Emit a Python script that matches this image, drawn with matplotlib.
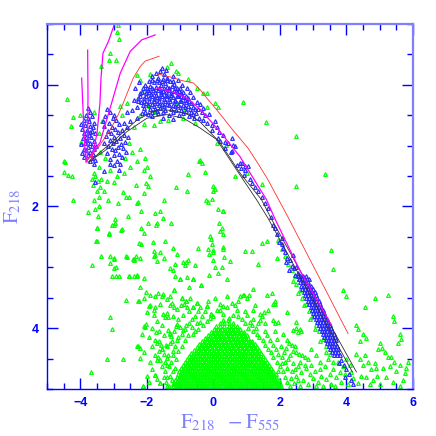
#!/usr/bin/env python3
"""Colour-magnitude diagram F218 vs F218-F555 with isochrones overlaid."""

import matplotlib
matplotlib.use("Agg")
import matplotlib.pyplot as plt
import numpy as np
from matplotlib.ticker import MultipleLocator

plt.rcParams["mathtext.fontset"] = "stix"

# ---- green field stars -------------------------------------------------
# saturated core of the faint field population: (F218, [colours])
core_rows = [
    (3.86, [0.30, 0.43]),
    (3.91, [0.20, 0.33, 0.46, 0.59]),
    (3.96, [0.07, 0.20, 0.33, 0.46, 0.59, 0.72]),
    (4.01, [0.01, 0.14, 0.27, 0.40, 0.53, 0.66, 0.79]),
    (4.06, [-0.08, 0.05, 0.18, 0.31, 0.44, 0.57, 0.70, 0.83, 0.92]),
    (4.11, [-0.15, -0.02, 0.11, 0.24, 0.37, 0.50, 0.63, 0.76, 0.89, 1.00]),
    (4.16, [-0.25, -0.12, 0.01, 0.14, 0.27, 0.40, 0.53, 0.66, 0.79, 0.92, 1.05]),
    (4.21, [-0.33, -0.20, -0.07, 0.06, 0.19, 0.32, 0.45, 0.58, 0.71, 0.84, 0.97, 1.10, 1.16]),
    (4.26, [-0.42, -0.29, -0.16, -0.03, 0.10, 0.23, 0.36, 0.49, 0.62, 0.75, 0.88, 1.01, 1.14, 1.24]),
    (4.31, [-0.50, -0.37, -0.24, -0.11, 0.02, 0.15, 0.28, 0.41, 0.54, 0.67, 0.80, 0.93, 1.06, 1.19,
            1.32]),
    (4.36, [-0.58, -0.45, -0.32, -0.19, -0.06, 0.07, 0.20, 0.33, 0.46, 0.59, 0.72, 0.85, 0.98, 1.11,
            1.24, 1.37]),
    (4.41, [-0.66, -0.53, -0.40, -0.27, -0.14, -0.01, 0.12, 0.25, 0.38, 0.51, 0.64, 0.77, 0.90, 1.03,
            1.16, 1.29, 1.42]),
    (4.46, [-0.73, -0.60, -0.47, -0.34, -0.21, -0.08, 0.05, 0.18, 0.31, 0.44, 0.57, 0.70, 0.83, 0.96,
            1.09, 1.22, 1.35, 1.48]),
    (4.51, [-0.80, -0.67, -0.54, -0.41, -0.28, -0.15, -0.02, 0.11, 0.24, 0.37, 0.50, 0.63, 0.76, 0.89,
            1.02, 1.15, 1.28, 1.41, 1.54]),
    (4.56, [-0.86, -0.73, -0.60, -0.47, -0.34, -0.21, -0.08, 0.05, 0.18, 0.31, 0.44, 0.57, 0.70, 0.83,
            0.96, 1.09, 1.22, 1.35, 1.48, 1.61]),
    (4.61, [-0.92, -0.79, -0.66, -0.53, -0.40, -0.27, -0.14, -0.01, 0.12, 0.25, 0.38, 0.51, 0.64, 0.77,
            0.90, 1.03, 1.16, 1.29, 1.42, 1.55, 1.68]),
    (4.66, [-0.97, -0.84, -0.71, -0.58, -0.45, -0.32, -0.19, -0.06, 0.07, 0.20, 0.33, 0.46, 0.59, 0.72,
            0.85, 0.98, 1.11, 1.24, 1.37, 1.50, 1.63, 1.74]),
    (4.71, [-1.02, -0.89, -0.76, -0.63, -0.50, -0.37, -0.24, -0.11, 0.02, 0.15, 0.28, 0.41, 0.54, 0.67,
            0.80, 0.93, 1.06, 1.19, 1.32, 1.45, 1.58, 1.71, 1.80]),
    (4.76, [-1.06, -0.93, -0.80, -0.67, -0.54, -0.41, -0.28, -0.15, -0.02, 0.11, 0.24, 0.37, 0.50, 0.63,
            0.76, 0.89, 1.02, 1.15, 1.28, 1.41, 1.54, 1.67, 1.80, 1.87]),
    (4.81, [-1.10, -0.97, -0.84, -0.71, -0.58, -0.45, -0.32, -0.19, -0.06, 0.07, 0.20, 0.33, 0.46, 0.59,
            0.72, 0.85, 0.98, 1.11, 1.24, 1.37, 1.50, 1.63, 1.76, 1.89]),
    (4.86, [-1.14, -1.01, -0.88, -0.75, -0.62, -0.49, -0.36, -0.23, -0.10, 0.03, 0.16, 0.29, 0.42, 0.55,
            0.68, 0.81, 0.94, 1.07, 1.20, 1.33, 1.46, 1.59, 1.72, 1.85, 1.96]),
    (4.91, [-1.18, -1.05, -0.92, -0.79, -0.66, -0.53, -0.40, -0.27, -0.14, -0.01, 0.12, 0.25, 0.38, 0.51,
            0.64, 0.77, 0.90, 1.03, 1.16, 1.29, 1.42, 1.55, 1.68, 1.81, 1.94, 2.00]),
    (4.96, [-1.22, -1.09, -0.96, -0.83, -0.70, -0.57, -0.44, -0.31, -0.18, -0.05, 0.08, 0.21, 0.34, 0.47,
            0.60, 0.73, 0.86, 0.99, 1.12, 1.25, 1.38, 1.51, 1.64, 1.77, 1.90, 2.03]),
]

# stars filling the gaps between the core rows
core_fill_rows = [
    (4.035, [0.08, 0.21, 0.34, 0.47, 0.60, 0.73]),
    (4.085, [-0.02, 0.11, 0.24, 0.37, 0.50, 0.63, 0.76, 0.89]),
    (4.135, [-0.09, 0.04, 0.17, 0.30, 0.43, 0.56, 0.69, 0.82, 0.95]),
    (4.185, [-0.19, -0.06, 0.07, 0.20, 0.33, 0.46, 0.59, 0.72, 0.85, 0.98]),
    (4.235, [-0.27, -0.14, -0.01, 0.12, 0.25, 0.38, 0.51, 0.64, 0.77, 0.90, 1.03, 1.12]),
    (4.285, [-0.36, -0.23, -0.10, 0.03, 0.16, 0.29, 0.42, 0.55, 0.68, 0.81, 0.94, 1.07, 1.20]),
    (4.335, [-0.44, -0.31, -0.18, -0.05, 0.08, 0.21, 0.34, 0.47, 0.60, 0.73, 0.86, 0.99, 1.12, 1.25]),
    (4.385, [-0.52, -0.39, -0.26, -0.13, 0.00, 0.13, 0.26, 0.39, 0.52, 0.65, 0.78, 0.91, 1.04, 1.17,
             1.30]),
    (4.435, [-0.60, -0.47, -0.34, -0.21, -0.08, 0.05, 0.18, 0.31, 0.44, 0.57, 0.70, 0.83, 0.96, 1.09,
             1.22, 1.35]),
    (4.485, [-0.67, -0.54, -0.41, -0.28, -0.15, -0.02, 0.11, 0.24, 0.37, 0.50, 0.63, 0.76, 0.89, 1.02,
             1.15, 1.28, 1.41]),
    (4.535, [-0.74, -0.61, -0.48, -0.35, -0.22, -0.09, 0.04, 0.17, 0.30, 0.43, 0.56, 0.69, 0.82, 0.95,
             1.08, 1.21, 1.34, 1.47]),
    (4.585, [-0.80, -0.67, -0.54, -0.41, -0.28, -0.15, -0.02, 0.11, 0.24, 0.37, 0.50, 0.63, 0.76, 0.89,
             1.02, 1.15, 1.28, 1.41, 1.54]),
    (4.635, [-0.86, -0.73, -0.60, -0.47, -0.34, -0.21, -0.08, 0.05, 0.18, 0.31, 0.44, 0.57, 0.70, 0.83,
             0.96, 1.09, 1.22, 1.35, 1.48, 1.61]),
    (4.685, [-0.91, -0.78, -0.65, -0.52, -0.39, -0.26, -0.13, 0.00, 0.13, 0.26, 0.39, 0.52, 0.65, 0.78,
             0.91, 1.04, 1.17, 1.30, 1.43, 1.56, 1.67]),
    (4.735, [-0.96, -0.83, -0.70, -0.57, -0.44, -0.31, -0.18, -0.05, 0.08, 0.21, 0.34, 0.47, 0.60, 0.73,
             0.86, 0.99, 1.12, 1.25, 1.38, 1.51, 1.64, 1.74]),
    (4.785, [-1.00, -0.87, -0.74, -0.61, -0.48, -0.35, -0.22, -0.09, 0.04, 0.17, 0.30, 0.43, 0.56, 0.69,
             0.82, 0.95, 1.08, 1.21, 1.34, 1.47, 1.60, 1.73, 1.82]),
    (4.835, [-1.04, -0.91, -0.78, -0.65, -0.52, -0.39, -0.26, -0.13, 0.00, 0.13, 0.26, 0.39, 0.52, 0.65,
             0.78, 0.91, 1.04, 1.17, 1.30, 1.43, 1.56, 1.69, 1.82]),
    (4.885, [-1.08, -0.95, -0.82, -0.69, -0.56, -0.43, -0.30, -0.17, -0.04, 0.09, 0.22, 0.35, 0.48, 0.61,
             0.74, 0.87, 1.00, 1.13, 1.26, 1.39, 1.52, 1.65, 1.78, 1.91]),
    (4.935, [-1.12, -0.99, -0.86, -0.73, -0.60, -0.47, -0.34, -0.21, -0.08, 0.05, 0.18, 0.31, 0.44, 0.57,
             0.70, 0.83, 0.96, 1.09, 1.22, 1.35, 1.48, 1.61, 1.74, 1.87, 1.97]),
    (4.985, [-1.16, -1.03, -0.90, -0.77, -0.64, -0.51, -0.38, -0.25, -0.12, 0.01, 0.14, 0.27, 0.40, 0.53,
             0.66, 0.79, 0.92, 1.05, 1.18, 1.31, 1.44, 1.57, 1.70, 1.83, 1.96]),
]

# halo round the core and the faint red wing
halo_pts = [
    (-2.25, 3.56), (-2.02, 3.40), (-2.02, 3.94), (-2.05, 3.99), (-2.28, 4.29), (-2.20, 4.33),
    (-1.75, 4.20), (-1.68, 4.24), (-1.62, 4.22), (-1.58, 4.27), (-1.75, 4.44), (-1.66, 4.47),
    (-1.60, 4.52), (-1.70, 4.53), (-1.42, 4.27), (-1.38, 4.30), (-1.30, 4.25), (-1.25, 4.21),
    (-1.45, 4.55), (-1.40, 4.60), (-1.33, 4.62), (-1.35, 4.03), (-1.30, 4.08), (-1.26, 4.13),
    (-1.50, 3.77), (-1.45, 3.82), (-1.40, 3.75), (-1.36, 3.82), (-1.80, 3.70), (-1.76, 3.66),
    (-1.90, 3.45), (-1.75, 3.48), (-1.66, 3.42), (-1.55, 3.48), (-1.50, 3.44), (-1.40, 3.52),
    (-1.30, 3.47), (-1.24, 3.58), (-1.18, 3.66), (-1.08, 3.68), (-0.98, 3.62), (-0.88, 3.60),
    (-0.80, 3.66), (-0.72, 3.72), (-1.10, 3.93), (-1.00, 3.98), (-0.90, 4.03), (-0.82, 3.95),
    (-0.72, 3.91), (-0.64, 3.99), (-1.30, 4.78), (-1.24, 4.86), (-1.20, 4.92), (-1.33, 4.95),
    (-1.42, 4.88), (-1.48, 4.80), (-1.60, 4.90), (-1.75, 4.77), (-1.68, 4.83), (-2.12, 4.95),
    (-1.55, 4.35), (-1.20, 4.44), (-1.12, 4.50), (-1.05, 4.38), (-0.95, 4.30), (-0.85, 4.20),
    (-0.75, 4.12), (-0.62, 4.10), (-0.55, 4.05), (-0.45, 4.02), (-0.40, 3.90), (-0.30, 3.95),
    (-0.20, 3.88), (-0.10, 3.84), (0.00, 3.80), (-0.55, 3.80), (-0.45, 3.72), (-1.10, 4.20),
    (-1.15, 4.65), (-1.22, 4.70), (-2.30, 4.30), (-2.22, 4.49), (-2.72, 4.51), (-3.20, 4.51),
    (-3.68, 4.73), (-3.04, 4.02), (-3.11, 3.81), (-2.10, 3.96), (-2.15, 4.10), (-2.62, 3.53),
    (-2.26, 3.56), (-2.08, 3.51), (-1.94, 3.64), (-2.00, 3.73), (-1.90, 3.62),
    (0.80, 3.48), (0.92, 3.45), (1.00, 3.50), (1.08, 3.46), (1.60, 3.45), (1.80, 3.60),
    (1.85, 3.55), (1.40, 3.77), (1.46, 3.80), (1.52, 3.74), (1.80, 3.87), (1.86, 3.92),
    (1.95, 3.90), (2.40, 4.03), (2.48, 4.00), (2.55, 4.06), (2.62, 4.02), (2.20, 4.20),
    (2.28, 4.24), (2.35, 4.27), (2.44, 4.30), (2.40, 4.38), (2.50, 4.40), (2.58, 4.43),
    (2.68, 4.45), (2.76, 4.48), (2.85, 4.50), (1.20, 4.05), (1.30, 4.10), (1.38, 4.15),
    (1.48, 4.20), (1.56, 4.28), (1.64, 4.35), (1.72, 4.40), (1.80, 4.48), (1.90, 4.55),
    (2.00, 4.62), (2.10, 4.70), (2.05, 4.58), (1.95, 4.70), (2.15, 4.80), (2.22, 4.88),
    (2.30, 4.95), (1.10, 3.90), (1.20, 3.85), (1.00, 3.78), (0.95, 3.72), (1.25, 3.62),
    (0.70, 3.70), (0.60, 3.78), (0.85, 3.85), (0.40, 3.66), (0.30, 3.77), (0.20, 3.70),
    (0.48, 3.83), (0.55, 3.58), (0.30, 3.63), (-0.08, 3.77), (-0.20, 3.63), (-0.50, 3.58),
    (-0.60, 3.66), (-0.83, 3.56), (-0.95, 3.50), (-0.36, 3.29), (-0.73, 3.33), (-0.60, 3.20),
    (-1.00, 3.20), (-1.18, 3.38), (0.30, 2.66), (0.00, 2.71), (-0.14, 2.78), (0.33, 2.83),
    (0.05, 2.99), (0.27, 2.99), (0.15, 3.10), (-0.14, 3.12),
    (2.25, 4.50), (2.40, 4.58), (2.55, 4.62), (2.35, 4.70), (2.50, 4.78), (2.65, 4.72),
    (2.80, 4.66), (2.95, 4.60), (3.05, 4.70), (2.70, 4.85), (2.85, 4.92), (3.00, 4.82),
    (3.15, 4.88), (3.25, 4.78), (3.40, 4.84), (3.55, 4.92), (3.30, 4.95), (3.70, 4.80),
    (3.85, 4.88), (3.95, 4.75), (4.05, 4.92), (4.20, 4.82), (4.35, 4.90), (4.30, 4.43),
    (4.40, 4.50), (4.55, 4.45), (4.50, 4.60), (4.65, 4.55), (4.85, 4.58), (4.75, 4.68),
    (4.90, 4.66), (5.00, 4.25), (5.08, 4.32), (4.95, 4.35), (5.15, 4.40), (5.25, 4.48),
    (5.35, 4.48), (5.42, 4.56), (5.60, 4.10), (5.65, 4.18), (5.55, 4.25), (5.85, 4.55),
    (5.80, 4.65), (5.75, 4.74), (4.50, 4.10), (4.58, 4.16), (4.42, 4.22), (4.30, 3.95),
    (4.35, 4.02), (4.55, 3.66), (4.85, 3.50), (5.25, 3.45), (5.40, 3.80), (5.42, 3.88),
    (4.00, 3.48), (3.90, 3.38), (3.60, 3.03), (3.53, 2.71), (4.60, 4.80), (4.80, 4.85),
    (5.00, 4.92), (5.20, 4.80), (5.40, 4.88), (5.60, 4.95), (5.70, 4.85), (4.10, 4.60),
    (4.00, 4.50), (3.90, 4.62), (3.75, 4.55), (3.60, 4.68), (3.20, 4.55), (3.35, 4.62),
    (3.10, 4.45), (2.95, 4.35), (3.40, 4.40),
    (-1.55, 3.95), (-1.48, 4.12), (-1.62, 4.05), (-1.20, 3.80), (-1.05, 3.85), (-0.92, 3.78),
    (-0.65, 3.85), (-0.48, 3.92), (-0.35, 3.80), (-0.25, 3.72), (0.10, 3.70), (0.20, 3.60),
    (0.65, 3.62), (0.75, 3.80), (0.95, 3.92), (1.05, 4.00), (1.15, 3.95), (1.28, 4.00),
    (1.35, 3.92), (1.55, 4.05), (1.62, 4.12), (1.70, 4.20), (1.78, 4.28), (1.88, 4.35),
    (1.95, 4.42), (2.05, 4.48), (2.12, 4.40), (2.02, 4.30), (1.92, 4.18), (1.85, 4.05),
    (2.10, 4.10), (2.18, 4.32), (2.30, 4.45), (2.15, 4.55), (2.22, 4.65), (2.32, 4.82),
    (2.42, 4.90), (2.60, 4.95), (2.55, 4.85), (2.45, 4.68), (2.62, 4.55), (2.75, 4.60),
    (2.90, 4.75), (3.10, 4.95), (3.20, 4.68), (3.50, 4.75), (3.65, 4.95), (3.80, 4.72),
    (4.15, 4.72), (4.45, 4.78), (4.70, 4.92), (4.92, 4.78), (5.10, 4.65), (5.30, 4.62),
    (5.50, 4.70), (5.62, 4.60), (-1.45, 4.70), (-1.55, 4.62), (-1.38, 4.80), (-1.28, 4.55),
    (-1.22, 4.38), (-1.35, 4.45), (-1.48, 4.42), (-1.62, 4.38), (-1.85, 4.30), (-1.92, 4.55),
    (-1.85, 4.68), (-1.95, 4.88), (-2.00, 4.78), (-1.38, 4.95), (-1.15, 4.30), (-1.05, 4.15),
    (-0.95, 4.10), (-0.85, 4.02), (-1.18, 4.05), (-0.40, 3.65), (-0.15, 3.55), (0.05, 3.50),
    (0.42, 3.48), (0.75, 3.55), (1.20, 3.70), (1.65, 3.70), (1.55, 3.92), (-0.70, 3.50),
    (-1.30, 3.62), (-1.60, 3.60), (-1.70, 3.88), (-1.85, 4.00), (-1.95, 4.15), (-1.78, 3.78),
]

# field stars along the red giant branch and in the blue-loop region
branch_green = [
    (1.95, 2.55), (2.05, 2.70), (2.15, 2.82), (2.25, 2.95), (2.35, 3.05), (2.45, 3.15),
    (2.50, 3.28), (2.60, 3.38), (2.68, 3.50), (2.78, 3.60), (2.88, 3.72), (2.98, 3.82),
    (3.08, 3.95), (3.18, 4.05), (3.30, 4.18), (3.40, 4.30), (3.50, 4.42), (3.60, 4.55),
    (2.40, 3.22), (2.55, 3.42), (2.72, 3.62), (2.90, 3.85), (3.05, 4.02), (3.22, 4.22),
    (3.45, 4.50), (1.90, 2.85), (1.35, 2.95), (1.45, 2.60), (1.60, 2.56), (0.95, 2.73),
    (1.15, 2.73), (0.50, 2.90), (0.30, 2.70), (0.40, 3.20), (0.90, 3.45), (1.20, 3.35),
    (1.75, 3.43), (1.85, 3.60), (1.40, 3.87), (2.20, 3.73), (2.50, 3.90), (2.65, 4.05),
    (-2.30, -0.16), (-1.27, -0.36), (-1.12, -0.23), (-0.20, 0.14), (-2.10, 0.10), (-1.95, 0.35),
    (-1.75, 0.45), (-1.50, 0.35), (-1.30, 0.20), (-1.60, 0.60), (-1.10, 0.30), (-0.85, 0.40),
    (-0.65, 0.30), (-2.20, 0.50), (-2.40, 0.70), (-2.55, 0.95), (-2.45, 1.10), (-2.30, 1.25),
    (-2.50, 1.35), (-2.70, 1.45), (-2.90, 1.50), (-3.10, 1.40), (-3.25, 1.20), (-3.40, 1.10),
    (-3.45, 1.35), (-3.60, 1.45), (-3.55, 1.50), (-3.48, 1.58), (-3.62, 1.65), (-3.40, 1.68),
    (-3.50, 1.75), (-3.45, 1.85), (-3.58, 1.90), (-3.38, 1.55), (-3.65, 1.55), (-3.35, 0.60),
    (-3.45, 0.80), (-4.00, 0.50), (-3.58, 0.45), (-2.75, 0.50), (-2.65, 1.20), (-2.10, 0.65),
    (-1.80, 0.66), (-0.90, 0.55), (-0.55, 0.62), (-1.35, 0.58), (-2.60, 0.30), (-2.80, 0.35),
    (-2.20, -0.08), (-1.90, -0.18), (-1.40, -0.30), (-1.05, -0.20), (-0.75, -0.10), (-0.50, 0.05),
    (0.05, 0.30), (-2.10, 1.40), (-1.90, 1.50), (-2.00, 1.35), (-3.30, 1.75), (-3.20, 1.58),
    (-3.00, 1.60), (-3.45, 2.00), (-3.55, 2.05), (-2.05, 1.20), (-2.20, 1.05),
]

# sparse scatter over the rest of the diagram
sparse_green = [
    (-2.87, -0.98), (-2.90, -0.86), (-2.83, -0.75), (-3.10, -0.52), (-3.13, -0.40), (-2.93, -0.40),
    (-3.39, -0.31), (-4.40, 0.23), (-4.22, 0.53), (-4.28, 0.67), (-3.98, 0.94), (-4.49, 1.25),
    (-4.48, 1.43), (-4.36, 1.48), (-4.25, 1.50), (-4.22, 1.90), (-4.47, 1.27), (-3.77, 2.09),
    (-3.48, 2.16), (-3.50, 2.35), (-3.52, 2.56), (-3.38, 2.82), (-3.65, 2.96), (-2.95, 2.20),
    (-3.13, 2.45), (-2.75, 2.37), (-2.58, 2.15), (-3.00, 2.84), (-2.42, 2.86), (-2.87, 1.94),
    (-2.62, 1.84), (-2.30, 1.94), (-2.33, 1.64), (-2.17, 2.07), (-2.02, 1.61), (-1.97, 1.67),
    (-2.08, 1.78), (-2.10, 2.43), (-1.97, 2.27), (-1.69, 2.27), (-1.61, 2.07), (-1.48, 1.90),
    (-1.75, 2.10), (-1.50, 2.19), (-1.27, 2.28), (-1.72, 2.30), (-1.45, 2.56), (-2.17, 2.61),
    (-2.32, 2.82), (-2.62, 2.82), (-3.12, 2.82), (-2.93, 3.00), (-3.04, 3.15), (-2.85, 3.15),
    (-2.55, 3.15), (-2.40, 3.15), (-2.30, 3.15), (-2.38, 2.88), (-1.80, 2.82), (-1.75, 2.80),
    (-1.60, 2.75), (-1.10, 2.78), (-1.22, 2.68), (-1.15, 2.95), (-0.90, 2.92), (-0.82, 2.92),
    (-0.75, 2.88), (-1.15, 3.15), (-0.80, 3.16), (-3.17, 1.90), (-2.53, 1.84), (-2.72, 1.77),
    (-2.28, 1.93), (-2.17, 2.35), (-2.98, 2.30), (-3.05, 2.30), (-0.77, 1.47), (-1.12, 1.68),
    (-0.80, 1.75), (-0.43, 1.25), (-0.23, 1.90), (-0.15, 1.92), (-0.05, 1.88), (0.00, 1.67),
    (0.00, 1.75), (0.28, 2.08), (0.16, 2.27), (0.27, 2.35), (-0.10, 2.49), (0.20, 2.40),
    (0.30, 2.45), (-0.07, 2.53), (-0.05, 2.62), (0.00, 2.75), (-0.02, 2.88), (-0.15, 2.70),
    (-0.45, 2.68), (-3.49, 2.35), (-3.14, 2.44), (-2.78, 2.38), (-2.96, 2.27), (-3.51, 2.56),
    (-3.11, 2.93), (-2.98, 2.86), (-3.00, 3.02), (-2.93, 3.14), (-2.60, 2.83), (-2.54, 3.14),
    (-2.39, 2.86), (-2.20, 2.84), (-2.30, 3.12), (-2.09, 3.18), (-2.20, 3.33), (-2.23, 2.60),
    (-1.83, 2.58), (-1.78, 2.73), (-1.70, 2.89), (-1.48, 2.85), (-1.30, 3.02), (-1.22, 3.05),
    (-1.00, 3.20), (-0.85, 2.96), (-0.55, 2.97), (-0.60, 3.20), (-0.36, 3.29), (-1.18, 3.38),
    (-0.95, 3.50), (-0.83, 3.56), (-0.50, 3.58), (-0.60, 3.66), (-0.20, 3.63), (-0.08, 3.77),
    (-2.10, 4.40), (-2.12, 4.95), (-1.75, 4.77), (-1.60, 4.90), (-1.40, 4.49), (-1.55, 4.35),
    (-1.73, 4.07), (-1.30, 4.10), (-1.12, 3.96), (0.14, 0.37), (0.90, 0.28), (1.57, 0.61),
    (2.50, 0.84), (3.35, 1.46), (2.48, 1.66), (-0.40, 1.23), (-0.35, 1.28), (-0.25, 1.43),
    (0.05, 1.72), (0.65, 1.50), (1.45, 1.63), (1.00, 1.45), (0.38, 0.99), (0.10, 0.95),
    (-0.20, 0.36), (-0.30, 0.14), (0.14, 2.05), (0.28, 2.08),
]

# ---- blue cluster members ----------------------------------------------
loop_blue = [
    (-3.77, 0.38), (-3.72, 0.45), (-3.82, 0.50), (-3.66, 0.52), (-3.90, 0.58), (-3.75, 0.60),
    (-3.60, 0.62), (-3.85, 0.66), (-3.70, 0.68), (-3.95, 0.72), (-3.80, 0.74), (-3.64, 0.76),
    (-3.55, 0.80), (-3.88, 0.80), (-3.74, 0.82), (-3.68, 0.86), (-3.92, 0.88), (-3.80, 0.90),
    (-3.60, 0.92), (-3.86, 0.95), (-3.72, 0.96), (-3.98, 0.98), (-3.65, 1.00), (-3.78, 1.02),
    (-3.90, 1.05), (-3.58, 1.06), (-3.84, 1.08), (-3.70, 1.10), (-3.62, 1.14), (-3.76, 1.16),
    (-3.88, 1.18), (-3.66, 1.20), (-3.55, 1.24), (-3.72, 1.26), (-3.58, 1.30), (-3.98, 0.65),
    (-3.62, 0.70), (-3.84, 0.85), (-3.70, 0.78), (-3.94, 1.12), (-3.52, 1.00), (-3.76, 0.55),
    (-3.20, 0.40), (-3.10, 0.45), (-3.25, 0.52), (-3.02, 0.55), (-2.92, 0.58), (-3.15, 0.62),
    (-2.85, 0.64), (-3.28, 0.68), (-3.05, 0.70), (-2.95, 0.72), (-2.75, 0.74), (-3.18, 0.76),
    (-2.88, 0.78), (-3.08, 0.80), (-2.70, 0.82), (-3.22, 0.84), (-2.98, 0.86), (-2.82, 0.88),
    (-3.12, 0.90), (-2.92, 0.92), (-2.65, 0.94), (-3.02, 0.96), (-2.78, 0.98), (-3.16, 1.00),
    (-2.88, 1.02), (-2.72, 1.04), (-3.06, 1.06), (-2.95, 1.08), (-2.62, 1.10), (-3.20, 1.12),
    (-2.84, 1.14), (-3.00, 1.16), (-2.76, 1.18), (-3.10, 1.22), (-2.90, 1.25), (-3.00, 1.32),
    (-2.80, 1.30), (-2.60, 0.70), (-2.58, 0.86), (-3.30, 0.95), (-3.32, 0.60), (-2.68, 0.62),
    (-2.98, 0.50), (-3.12, 1.30), (-2.85, 1.40), (-3.55, 1.60), (-3.30, 1.42),
]

clump_blue = [
    (-1.72, -0.20), (-1.60, -0.22), (-1.48, -0.18), (-1.85, -0.14), (-1.66, -0.12), (-1.52, -0.10),
    (-1.38, -0.12), (-1.95, -0.06), (-1.78, -0.05), (-1.62, -0.04), (-1.45, -0.03), (-1.30, -0.06),
    (-1.18, -0.02), (-2.05, 0.00), (-1.90, 0.02), (-1.72, 0.03), (-1.56, 0.01), (-1.40, 0.04),
    (-1.25, 0.02), (-1.10, 0.05), (-2.12, 0.06), (-1.98, 0.08), (-1.82, 0.09), (-1.66, 0.08),
    (-1.50, 0.10), (-1.34, 0.09), (-1.18, 0.11), (-1.02, 0.10), (-0.90, 0.12), (-2.20, 0.13),
    (-2.04, 0.14), (-1.88, 0.15), (-1.72, 0.16), (-1.58, 0.15), (-1.42, 0.17), (-1.26, 0.16),
    (-1.10, 0.18), (-0.96, 0.19), (-0.82, 0.18), (-2.28, 0.21), (-2.10, 0.21), (-1.94, 0.22),
    (-1.78, 0.23), (-1.64, 0.22), (-1.48, 0.24), (-1.32, 0.23), (-1.16, 0.25), (-1.00, 0.26),
    (-0.86, 0.25), (-0.72, 0.27), (-2.18, 0.29), (-2.02, 0.30), (-1.86, 0.31), (-1.70, 0.30),
    (-1.54, 0.32), (-1.38, 0.31), (-1.22, 0.33), (-1.06, 0.34), (-0.92, 0.33), (-0.76, 0.35),
    (-0.62, 0.37), (-2.30, 0.37), (-2.08, 0.38), (-1.92, 0.39), (-1.76, 0.40), (-1.60, 0.38),
    (-1.44, 0.41), (-1.28, 0.40), (-1.12, 0.42), (-0.98, 0.41), (-0.82, 0.43), (-0.68, 0.45),
    (-0.52, 0.46), (-2.15, 0.46), (-1.98, 0.48), (-1.66, 0.47), (-1.34, 0.49), (-1.04, 0.50),
    (-0.74, 0.52), (-0.58, 0.54), (-0.42, 0.55), (-0.30, 0.58), (-0.18, 0.62), (-0.05, 0.66),
    (-0.45, 0.40), (-0.35, 0.45), (-0.25, 0.50), (-1.55, -0.28), (-1.42, -0.24), (-2.35, 0.05),
    (-2.25, -0.05), (-2.40, 0.25), (-2.45, 0.42), (-1.20, -0.15), (-1.05, -0.08), (-0.95, 0.00),
    (-0.80, 0.05), (-0.70, 0.12), (-0.60, 0.20), (-0.50, 0.28), (-0.40, 0.32), (-0.30, 0.38),
    (-0.12, 0.48), (0.05, 0.60), (-1.85, 0.52), (-1.50, 0.55), (-1.20, 0.56), (-2.30, 0.55),
    (-2.60, 0.45), (-2.50, 0.60),
    (-1.86, -0.08), (-1.70, -0.08), (-1.54, -0.07), (-1.38, -0.08), (-1.22, -0.07),
    (-2.00, 0.05), (-1.84, 0.05), (-1.64, 0.05), (-1.48, 0.06), (-1.32, 0.05), (-1.16, 0.06),
    (-1.00, 0.05), (-2.14, 0.12), (-1.94, 0.12), (-1.76, 0.12), (-1.58, 0.12), (-1.42, 0.12),
    (-1.26, 0.13), (-1.10, 0.12), (-0.96, 0.13), (-2.20, 0.19), (-2.02, 0.19), (-1.86, 0.19),
    (-1.70, 0.20), (-1.54, 0.19), (-1.38, 0.19), (-1.22, 0.20), (-1.06, 0.19), (-0.90, 0.20),
    (-0.76, 0.21), (-2.26, 0.26), (-2.10, 0.26), (-1.94, 0.27), (-1.78, 0.26), (-1.62, 0.26),
    (-1.46, 0.27), (-1.30, 0.26), (-1.14, 0.27), (-0.98, 0.26), (-0.82, 0.28), (-0.66, 0.30),
    (-2.12, 0.34), (-1.96, 0.34), (-1.80, 0.35), (-1.64, 0.34), (-1.48, 0.35), (-1.32, 0.34),
    (-1.16, 0.35), (-1.00, 0.36), (-0.84, 0.37), (-0.70, 0.39), (-0.55, 0.40), (-2.05, 0.44),
    (-1.85, 0.44), (-1.70, 0.43), (-1.50, 0.44), (-1.20, 0.45), (-0.90, 0.46), (-0.60, 0.48),
    (-0.04, 0.74), (0.17, 0.77), (0.10, 0.70), (0.35, 0.94), (0.55, 0.87), (0.65, 1.00),
    (0.55, 1.09), (0.60, 0.99), (0.87, 1.28), (0.70, 1.32), (0.95, 1.33), (0.95, 1.40),
    (0.14, 0.88), (0.35, 1.04), (0.53, 1.10), (0.80, 1.28), (0.84, 1.36), (1.04, 1.34),
    (0.93, 1.48), (1.10, 1.55), (1.25, 1.68), (1.45, 1.84), (1.64, 2.02), (1.74, 2.17),
    (0.30, 0.82), (0.45, 0.96), (1.35, 1.75), (1.55, 1.95), (0.20, 0.92), (1.15, 1.62),
]

# red giant branch: sparse top, dense strip rows, faint tail
rgb_top_blue = [
    (1.86, 2.35), (1.92, 2.45), (1.98, 2.58), (2.05, 2.52), (2.10, 2.68), (2.14, 2.75),
    (2.22, 2.85), (2.18, 2.92), (2.30, 2.88), (2.35, 2.98), (2.42, 3.02), (2.50, 3.00),
    (2.28, 3.05), (2.55, 3.10), (2.45, 3.12), (2.62, 3.15), (2.58, 3.20), (2.40, 2.80),
    (2.05, 2.62), (1.80, 2.30), (3.85, 4.52), (3.92, 4.60), (3.78, 4.58), (4.00, 4.68),
    (4.08, 4.75), (4.15, 4.85), (3.95, 4.80), (4.20, 4.92),
]
rgb_rows = [
    (3.15, [2.54, 2.62, 2.70, 2.78]),
    (3.20, [2.58, 2.66, 2.74, 2.82, 2.88]),
    (3.25, [2.62, 2.70, 2.78, 2.86]),
    (3.30, [2.64, 2.72, 2.80, 2.88, 2.95]),
    (3.35, [2.68, 2.76, 2.84, 2.92, 3.00]),
    (3.40, [2.72, 2.81, 2.89, 2.97, 3.05]),
    (3.45, [2.77, 2.85, 2.93, 3.01, 3.09]),
    (3.50, [2.80, 2.89, 2.97, 3.05, 3.13]),
    (3.55, [2.85, 2.93, 3.01, 3.09, 3.17]),
    (3.60, [2.88, 2.97, 3.05, 3.13, 3.21]),
    (3.65, [2.93, 3.01, 3.09, 3.17, 3.25]),
    (3.70, [2.96, 3.05, 3.13, 3.21, 3.29]),
    (3.75, [3.01, 3.09, 3.17, 3.25, 3.33]),
    (3.80, [3.04, 3.13, 3.21, 3.29, 3.37]),
    (3.85, [3.09, 3.17, 3.25, 3.33, 3.41]),
    (3.90, [3.13, 3.22, 3.30, 3.38, 3.46]),
    (3.95, [3.18, 3.26, 3.34, 3.42, 3.50]),
    (4.00, [3.21, 3.30, 3.38, 3.46, 3.54]),
    (4.05, [3.26, 3.34, 3.42, 3.50, 3.58]),
    (4.10, [3.29, 3.38, 3.46, 3.54, 3.62]),
    (4.15, [3.34, 3.42, 3.50, 3.58, 3.66]),
    (4.20, [3.38, 3.46, 3.54, 3.62, 3.70]),
    (4.25, [3.42, 3.50, 3.58, 3.66]),
    (4.30, [3.48, 3.56, 3.64, 3.72]),
    (4.35, [3.52, 3.60, 3.68, 3.76]),
    (4.40, [3.58, 3.66, 3.74]),
    (4.45, [3.64, 3.72, 3.80]),
]

# ---- isochrones (colour, F218) ------------------------------------------
red_loop = [(-3.80, 1.25), (-3.45, 1.02), (-3.10, 0.74), (-2.85, 0.48), (-2.71, 0.30),
            (-2.55, 0.08), (-2.41, -0.11), (-2.20, -0.30), (-2.05, -0.39), (-1.63, -0.47)]
red_rgb = [(-1.69, -0.18), (-1.30, -0.13), (-0.95, -0.07), (-0.60, -0.03), (-0.40, 0.08),
           (-0.15, 0.25), (0.10, 0.41), (0.55, 0.72), (1.04, 1.04), (1.35, 1.30),
           (1.64, 1.56), (2.24, 2.17), (3.10, 3.08), (4.05, 4.09)]
magenta_tracks = [
    [(-3.96, -0.11), (-3.92, 0.40), (-3.88, 0.90), (-3.83, 1.27)],
    [(-3.78, -0.57), (-3.77, 0.20), (-3.78, 0.80), (-3.80, 1.27)],
    [(-2.96, -1.02), (-3.15, -0.72), (-3.32, -0.52), (-3.38, -0.10), (-3.41, 0.30),
     (-3.50, 0.80), (-3.66, 1.23)],
    [(-1.75, -0.82), (-2.15, -0.74), (-2.50, -0.55), (-2.80, -0.19), (-3.06, 0.30),
     (-3.41, 0.95), (-3.81, 1.25)],
    [(-1.70, 0.05), (-1.20, 0.12), (-0.80, 0.22), (-0.40, 0.40), (0.20, 0.77),
     (0.80, 1.18), (1.60, 1.89), (1.84, 2.19), (2.60, 3.05), (3.55, 3.95)],
]
black_tracks = [
    [(-3.75, 1.27), (-3.00, 0.92), (-2.30, 0.58), (-1.70, 0.41), (-1.20, 0.42),
     (-0.70, 0.50), (-0.40, 0.61), (0.20, 0.95), (0.80, 1.45), (1.45, 1.89),
     (1.73, 2.19), (4.30, 4.72)],
    [(-3.75, 1.27), (-3.10, 1.02), (-2.60, 0.77), (-2.00, 0.55), (-1.40, 0.49),
     (-0.90, 0.55), (-0.40, 0.71), (0.10, 0.90), (0.70, 1.40), (1.30, 1.89),
     (1.64, 2.19), (4.18, 4.72)],
]


def rows_to_xy(rows):
    """Flatten (y, [x, ...]) rows to x and y arrays."""
    xs = [x for y, row in rows for x in row]
    ys = [y for y, row in rows for _ in row]
    return np.array(xs), np.array(ys)


def pts_to_xy(pts):
    arr = np.array(pts)
    return arr[:, 0], arr[:, 1]


fig = plt.figure(figsize=(4.36, 4.36), dpi=100)
ax = fig.add_axes([0.108, 0.108, 0.839, 0.837])

marker_kw = dict(marker="^", linestyle="none", markersize=2.7,
                 markerfacecolor="none", markeredgewidth=0.85)

green = "#00ff00"
for rows in (core_rows, core_fill_rows):
    cx, cy = rows_to_xy(rows)
    ax.plot(cx, cy, color=green, **marker_kw)
for group in (halo_pts, branch_green, sparse_green):
    gx, gy = pts_to_xy(group)
    ax.plot(gx, gy, color=green, **marker_kw)

blue = "#2a2aff"
for group in (loop_blue, clump_blue, rgb_top_blue):
    bx, by = pts_to_xy(group)
    ax.plot(bx, by, color=blue, **marker_kw)
rx, ry = rows_to_xy(rgb_rows)
ax.plot(rx, ry, color=blue, **marker_kw)

for track in black_tracks:
    tx, ty = pts_to_xy(track)
    ax.plot(tx, ty, color="#303030", linewidth=0.6)
for track in magenta_tracks:
    tx, ty = pts_to_xy(track)
    ax.plot(tx, ty, color="#ff00ff", linewidth=0.9)
for track in (red_loop, red_rgb):
    tx, ty = pts_to_xy(track)
    ax.plot(tx, ty, color="#ff3030", linewidth=0.6)

ax.set_xlim(-5, 6)
ax.set_ylim(5, -1)
ax.set_xticks([-4, -2, 0, 2, 4, 6])
ax.set_yticks([0, 2, 4])
ax.xaxis.set_minor_locator(MultipleLocator(0.5))
ax.yaxis.set_minor_locator(MultipleLocator(0.5))
ax.tick_params(which="both", direction="in", top=True, right=True,
               color="#0000ff", width=1.0)
ax.tick_params(which="major", length=8, pad=6)
ax.tick_params(which="minor", length=4)
ax.set_xticklabels(["\u22124", "\u22122", "0", "2", "4", "6"])
ax.set_yticklabels(["0", "2", "4"])
for lab in ax.get_xticklabels() + ax.get_yticklabels():
    lab.set_family("Liberation Sans")
    lab.set_fontsize(9)
    lab.set_fontweight("bold")
    lab.set_color("#0000ff")

for side in ("left", "bottom"):
    ax.spines[side].set_color("#0000ff")
    ax.spines[side].set_linewidth(1.0)
for side in ("top", "right"):
    ax.spines[side].set_color("#7f7fff")
    ax.spines[side].set_linewidth(1.6)

ax.set_xlabel(r"$\mathrm{F}_{218}\ \ -\mathrm{F}_{555}$", fontsize=15,
              color="#8080ff", labelpad=2)
ax.set_ylabel(r"$\mathrm{F}_{218}$", fontsize=15, color="#8080ff", labelpad=6)

fig.savefig("out.png", dpi=100)
